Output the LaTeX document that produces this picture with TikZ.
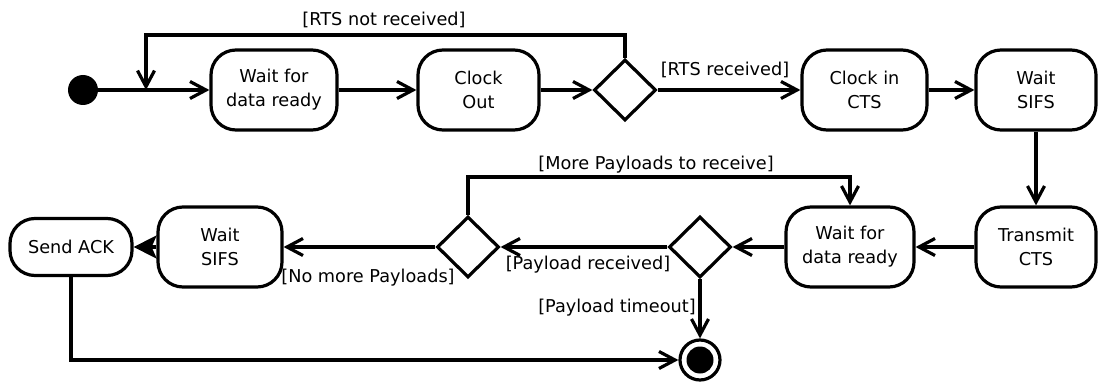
\documentclass[tikz,border=0pt]{standalone}
\usepackage{fontspec}
\setmainfont{DejaVu Sans}
\usetikzlibrary{arrows.meta,shapes.geometric}
\begin{document}
\begin{tikzpicture}[x=1pt,y=-1pt,
  every node/.style={font=\fontsize{17.7}{24}\selectfont},
  act/.style={draw,line width=3.2pt,rounded corners=25pt,minimum height=80pt,minimum width=#1,align=center,inner sep=0pt},
  dec/.style={draw,line width=3.2pt,diamond,minimum width=62pt,minimum height=61pt,inner sep=0pt},
  lbl/.style={inner sep=0pt},
  flow/.style={line width=3.2pt,-{Straight Barb[length=16pt,width=17pt]}},
  ackflow/.style={line width=3.2pt,-{Stealth[length=23pt,width=23pt,inset=5pt]}},
]
\useasboundingbox (0,0) rectangle (1098,385);
% top row
\node[circle,fill,minimum size=30pt,inner sep=0pt] (init) at (83,90) {};
\coordinate (j) at (146,90);
\coordinate (l1) at (146,35);
\node[act=126pt] (w1) at (274,90) {Wait for\\data ready};
\node[act=121pt] (co) at (478.5,90) {Clock\\Out};
\node[dec] (d1) at (625,90) {};
\node[act=125pt] (ci) at (864.5,90) {Clock in\\CTS};
\node[act=120pt] (ws1) at (1036,90) {Wait\\SIFS};
% bottom row
\node[act=120pt] (tc) at (1036,247) {Transmit\\CTS};
\node[act=128pt] (w2) at (850,247) {Wait for\\data ready};
\node[dec] (d2) at (700,247) {};
\node[dec] (d3) at (468,247) {};
\node[act=124pt] (ws2) at (220,247) {Wait\\SIFS};
\node[act=122pt,minimum height=57pt] (ack) at (71,247) {Send ACK};
\coordinate (l3) at (850,177);
% final node
\node[circle,draw,line width=3.2pt,minimum size=40pt,inner sep=0pt] (fin) at (700,360) {};
\node[circle,fill,minimum size=27pt,inner sep=0pt] (finin) at (fin.center) {};
% labels
\node[lbl] (lrtsn) at (384,20) {[RTS not received]};
\node[lbl] (lrts) at (725,70) {[RTS received]};
\node[lbl] (lmore) at (656,165) {[More Payloads to receive]};
\node[lbl] (lprec) at (588,265) {[Payload received]};
\node[lbl] (lnomore) at (368,278) {[No more Payloads]};
\node[lbl] (ltime) at (617,308) {[Payload timeout]};
% connectors
\draw[flow] (init) -- (w1);
\draw[flow] (d1.north) |- (l1) -- (j);
\draw[flow] (w1) -- (co);
\draw[flow] (co) -- (d1);
\draw[flow] (d1) -- (ci);
\draw[flow] (ci) -- (ws1);
\draw[flow] (ws1) -- (tc);
\draw[flow] (tc) -- (w2);
\draw[flow] (w2) -- (d2);
\draw[flow] (d2) -- (d3);
\draw[flow] (d3.north) |- (l3) -- (w2.north);
\draw[flow] (d3) -- (ws2);
\draw[ackflow] (ws2) -- (ack);
\draw[flow] (d2) -- (fin);
\draw[flow] (ack.south) |- (fin.west);
\end{tikzpicture}
\end{document}
